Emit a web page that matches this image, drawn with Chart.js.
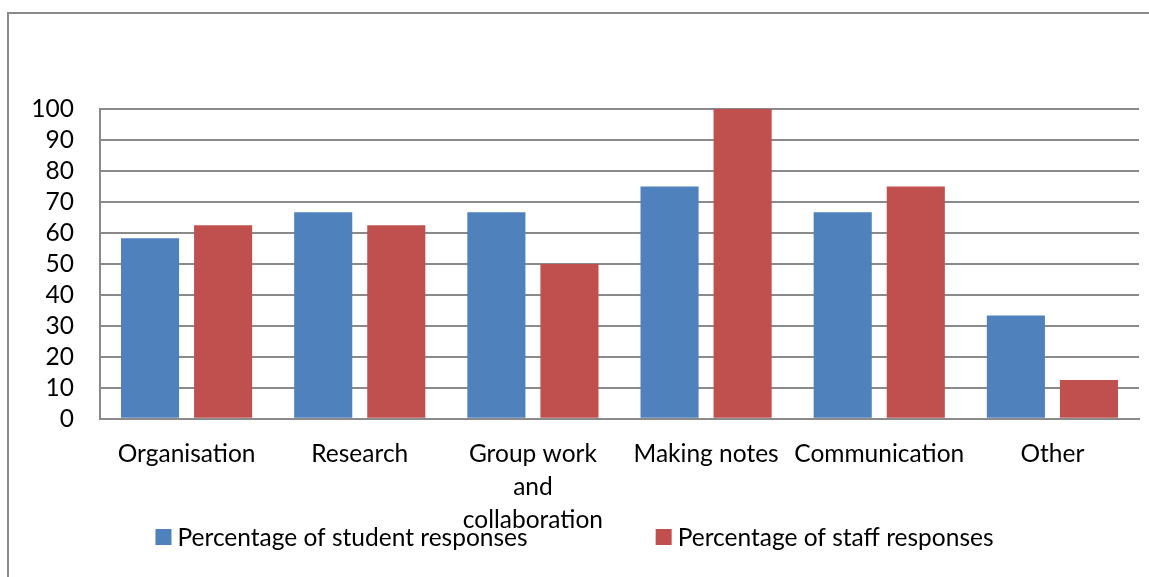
<!DOCTYPE html>
<html>
<head>
<meta charset="utf-8">
<script src="https://cdn.jsdelivr.net/npm/chart.js@4"></script>
<style>
  html, body { margin: 0; padding: 0; background: #fff; overflow: hidden; }
  #wrap { position: relative; width: 1149px; height: 577px; }
  #frame { position: absolute; left: 7px; top: 12px; width: 1200px; height: 700px; border: 2px solid #8a8a8a; }
  canvas { position: absolute; left: 0; top: 0; }
</style>
</head>
<body>
<div id="wrap">
  <div id="frame"></div>
  <canvas id="chart" width="1149" height="577"></canvas>
</div>
<script>
const categories = ['Organisation', 'Research', ['Group work', 'and', 'collaboration'], 'Making notes', 'Communication', 'Other'];
const studentValues = [58.3, 66.7, 66.7, 75, 66.7, 33.3];
const staffValues = [62.5, 62.5, 50, 100, 75, 12.5];
const yTicks = [0, 10, 20, 30, 40, 50, 60, 70, 80, 90, 100];

const FONT = 'Lato, "Open Sans", sans-serif';
const FONT_SIZE = 24.5;
const GRID = '#8a8a8a';

// legend drawn by hand so the two items sit wide apart like the original
const wideLegend = {
    id: 'wideLegend',
    afterDraw(chart) {
        const ctx = chart.ctx;
        const gap = 128, box = 16, space = 6;
        ctx.save();
        ctx.font = FONT_SIZE + 'px ' + FONT;
        ctx.textBaseline = 'middle';
        const items = chart.data.datasets.map(ds => ({
            label: ds.label,
            color: ds.backgroundColor,
            w: box + space + ctx.measureText(ds.label).width
        }));
        const total = items.reduce((s, it) => s + it.w, 0) + gap * (items.length - 1);
        let x = chart.width / 2 - total / 2;
        const y = 537;
        items.forEach(it => {
            ctx.fillStyle = it.color;
            ctx.fillRect(x, y - box / 2, box, box);
            ctx.fillStyle = '#000';
            ctx.fillText(it.label, x + box + space, y + 1);
            x += it.w + gap;
        });
        ctx.restore();
    }
};

const ctx = document.getElementById('chart').getContext('2d');
const chart = new Chart(ctx, {
    type: 'bar',
    data: {
        labels: categories,
        datasets: [{
            label: 'Percentage of student responses',
            data: studentValues,
            backgroundColor: '#4F81BD'
        }, {
            label: 'Percentage of staff responses',
            data: staffValues,
            backgroundColor: '#C0504D'
        }]
    },
    options: {
        responsive: false,
        animation: false,
        categoryPercentage: 0.844,
        barPercentage: 0.795,
        layout: {
            padding: { top: 109, left: 8, right: 10, bottom: 21 }
        },
        plugins: {
            legend: { display: false },
            tooltip: { enabled: false }
        },
        scales: {
            x: {
                grid: { display: false, drawTicks: false },
                border: { display: true, color: GRID, width: 2 },
                ticks: {
                    color: '#000',
                    padding: 19,
                    maxRotation: 0,
                    autoSkip: false,
                    font: { family: FONT, size: FONT_SIZE, lineHeight: 1.35 }
                }
            },
            y: {
                min: 0,
                max: 100,
                afterFit(scale) { scale.width = 92; },
                afterBuildTicks(scale) { scale.ticks = yTicks.map(v => ({ value: v })); },
                grid: { color: GRID, lineWidth: 2, drawTicks: false },
                border: { display: true, color: GRID, width: 2 },
                ticks: {
                    color: '#000',
                    padding: 26,
                    autoSkip: false,
                    font: { family: FONT, size: FONT_SIZE }
                }
            }
        }
    },
    plugins: [wideLegend]
});
</script>
</body>
</html>
